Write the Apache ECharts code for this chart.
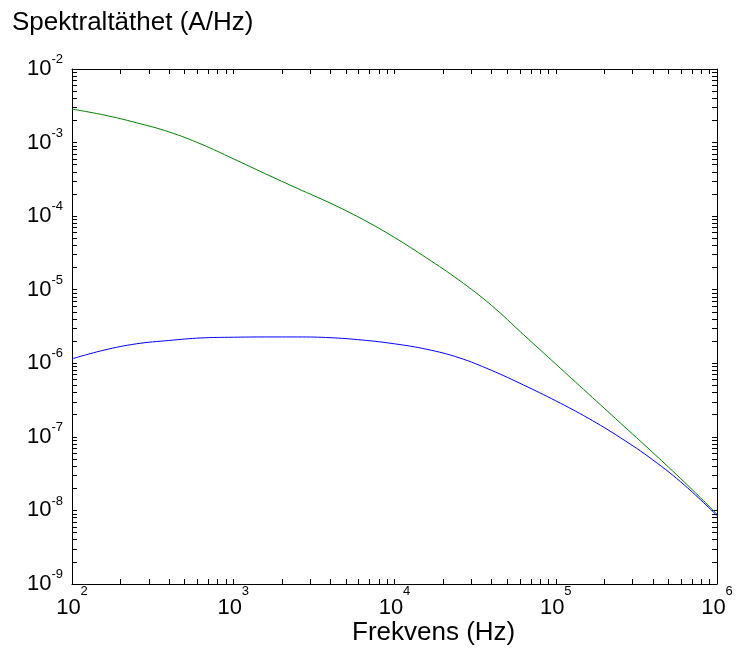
<!DOCTYPE html>
<html>
<head>
<meta charset="utf-8">
<script src="https://cdn.jsdelivr.net/npm/echarts@6/dist/echarts.min.js"></script>
<style>html,body{margin:0;padding:0;background:#fff}#c{width:737px;height:653px}</style>
</head>
<body>
<div id="c"></div>
<script>
const freq = [100, 158, 251, 398, 631, 1000, 1585, 2512, 3981, 6310, 10000, 15850, 25120, 39810, 63100, 100000, 158500, 251200, 398100, 631000, 1000000];
const greenValues = [2.85e-3, 2.37e-3, 1.86e-3, 1.40e-3, 9.55e-4, 6.03e-4, 3.76e-4, 2.37e-4, 1.51e-4, 9.12e-5, 5.13e-5, 2.69e-5, 1.35e-5, 6.17e-6, 2.45e-6, 9.77e-7, 3.89e-7, 1.55e-7, 6.17e-8, 2.40e-8, 8.91e-9];
const blueValues = [1.15e-6, 1.51e-6, 1.84e-6, 2.04e-6, 2.21e-6, 2.26e-6, 2.28e-6, 2.28e-6, 2.23e-6, 2.07e-6, 1.84e-6, 1.55e-6, 1.19e-6, 8.04e-7, 5.07e-7, 3.09e-7, 1.80e-7, 9.77e-8, 4.90e-8, 2.19e-8, 8.51e-9];
const xTickValues = [1e2, 1e3, 1e4, 1e5, 1e6];
const yTickValues = [1e-9, 1e-8, 1e-7, 1e-6, 1e-5, 1e-4, 1e-3, 1e-2];
const titleText = 'Spektraltäthet (A/Hz)';
const xNameText = 'Frekvens (Hz)';

function withMinors(majors) {
  const out = [];
  for (let i = 0; i < majors.length; i++) {
    out.push(majors[i]);
    if (i < majors.length - 1) {
      for (let m = 2; m <= 9; m++) out.push(Number((majors[i] * m).toPrecision(6)));
    }
  }
  return out;
}
const xTicksAll = withMinors(xTickValues);
const yTicksAll = withMinors(yTickValues);

const FONT = '"Liberation Sans", Arial, sans-serif';
const NARROW = '"Liberation Sans Narrow", "Arial Narrow", "Liberation Sans", Arial, sans-serif';
function expLabel(v) {
  const e = Math.round(Math.log10(v));
  return '{b|10}{s|' + e + '}';
}
const richX = {
  b: { fontSize: 22, fontFamily: NARROW, color: '#000', lineHeight: 22, verticalAlign: 'bottom' },
  s: { fontSize: 13, fontFamily: NARROW, color: '#000', lineHeight: 13, verticalAlign: 'bottom', padding: [0, 0, 21, 0] }
};
const richY = {
  b: { fontSize: 22, fontFamily: NARROW, color: '#000', lineHeight: 22, verticalAlign: 'bottom' },
  s: { fontSize: 13, fontFamily: NARROW, color: '#000', lineHeight: 13, verticalAlign: 'bottom', padding: [0, 0, 14, 0] }
};

const chart = echarts.init(document.getElementById('c'), null, { renderer: 'canvas' });
const axisLineStyle = { show: true, lineStyle: { color: '#000', width: 1 } };
const tickStyle = (vals) => ({ show: true, inside: true, length: 5, customValues: vals, lineStyle: { color: '#000', width: 1 } });

chart.setOption({
  animation: false,
  backgroundColor: '#fff',
  grid: { left: 72, right: 20, top: 69, bottom: 69, containLabel: false },
  xAxis: [
    {
      type: 'log', logBase: 10, min: 100, max: 1e6, position: 'bottom',
      axisLine: axisLineStyle, axisTick: tickStyle(xTicksAll), minorTick: { show: false },
      splitLine: { show: false },
      axisLabel: { show: true, customValues: xTickValues, formatter: expLabel, rich: richX, margin: 13 }
    },
    {
      type: 'log', logBase: 10, min: 100, max: 1e6, position: 'top',
      axisLine: axisLineStyle, axisTick: tickStyle(xTicksAll), splitLine: { show: false },
      axisLabel: { show: false }
    }
  ],
  yAxis: [
    {
      type: 'log', logBase: 10, min: 1e-9, max: 1e-2, position: 'left',
      axisLine: axisLineStyle, axisTick: tickStyle(yTicksAll), splitLine: { show: false },
      axisLabel: { show: true, customValues: yTickValues, formatter: expLabel, rich: richY, margin: 9 }
    },
    {
      type: 'log', logBase: 10, min: 1e-9, max: 1e-2, position: 'right',
      axisLine: axisLineStyle, axisTick: tickStyle(yTicksAll), splitLine: { show: false },
      axisLabel: { show: false }
    }
  ],
  series: [
    {
      type: 'line', xAxisIndex: 0, yAxisIndex: 0, showSymbol: false, smooth: 0.4,
      data: freq.map((f, i) => [f, greenValues[i]]),
      lineStyle: { color: '#008000', width: 1 }, itemStyle: { color: '#008000' }
    },
    {
      type: 'line', xAxisIndex: 0, yAxisIndex: 0, showSymbol: false, smooth: 0.4,
      data: freq.map((f, i) => [f, blueValues[i]]),
      lineStyle: { color: '#0000ff', width: 1 }, itemStyle: { color: '#0000ff' }
    }
  ],
  graphic: [
    { type: 'text', left: 12, top: 10, style: { text: titleText, font: '26px ' + FONT, fill: '#000' } },
    { type: 'text', left: 352, top: 620, style: { text: xNameText, font: '26px ' + FONT, fill: '#000' } }
  ]
});
</script>
</body>
</html>
